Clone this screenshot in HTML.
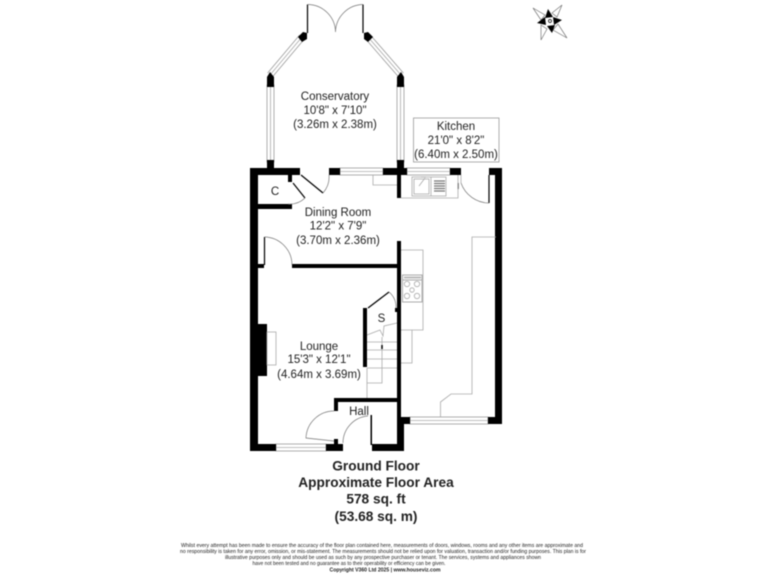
<!DOCTYPE html>
<html><head><meta charset="utf-8"><style>
html,body{margin:0;padding:0;background:#fff}
svg{display:block;filter:blur(.4px)}
text{font-family:"Liberation Sans",sans-serif;text-anchor:middle;fill:#222}
.l{font-size:11.5px}
.t{font-size:13.7px;font-weight:bold;fill:#111}
.f{font-size:5px;fill:#333}
.g{stroke:#aaa;stroke-width:.8;fill:none}
.a{stroke:#777;stroke-width:.7;fill:none}
.k{stroke:#000;fill:none}
</style></head><body>
<svg width="768" height="576" viewBox="0 0 768 576" xmlns="http://www.w3.org/2000/svg">
<rect width="768" height="576" fill="#fff"/>

<!-- Conservatory windows -->
<g fill="#fff" stroke="#999" stroke-width=".8">
<rect x="267" y="85" width="7" height="77"/>
<rect x="397" y="85" width="7" height="77"/>
<rect x="340" y="168" width="43" height="7"/>
<rect x="407" y="168" width="43" height="7"/>
<rect x="276" y="444" width="50" height="7"/>
<rect x="410" y="417" width="78" height="7"/>
</g>
<g class="g">
<path d="M270.5 85V162M400.5 85V162M340 171.500H383M407 171.500H450M276 447.500H326M410 420.500H488"/>
</g>
<line x1="302" y1="37" x2="270" y2="75" stroke="#999" stroke-width="7"/>
<line x1="302" y1="37" x2="270" y2="75" stroke="#fff" stroke-width="5.400"/>
<line x1="302" y1="37" x2="270" y2="75" stroke="#aaa" stroke-width=".8"/>
<line x1="368" y1="37" x2="401" y2="75" stroke="#999" stroke-width="7"/>
<line x1="368" y1="37" x2="401" y2="75" stroke="#fff" stroke-width="5.400"/>
<line x1="368" y1="37" x2="401" y2="75" stroke="#aaa" stroke-width=".8"/>

<!-- Conservatory door -->
<path d="M307.500 4.500V33M363 4.500V33" class="k" stroke-width="1.200"/>
<path d="M307.500 4.500A28 28 0 0 1 335.500 32M363 4.500A28 28 0 0 0 335.500 32" class="a"/>

<!-- Walls -->
<g fill="#000">
<polygon points="298,37 303,32 307,33 307,39 302,42"/>
<polygon points="364,33 368,32 373,37 368,42 364,39"/>
<polygon points="267,77 270,72 274,77 274,87 267,87"/>
<polygon points="397,77 401,72 404,77 404,87 397,87"/>
<rect x="267" y="160" width="7" height="9"/>
<rect x="397" y="160" width="7" height="9"/>
<rect x="250" y="168" width="50" height="7"/>
<rect x="329" y="168" width="11" height="7"/>
<rect x="383" y="168" width="24" height="7"/>
<rect x="450" y="168" width="11" height="7"/>
<rect x="489" y="168" width="13" height="7"/>
<rect x="495" y="168" width="7" height="256"/>
<rect x="250" y="168" width="8" height="283"/>
<rect x="258" y="324" width="9" height="52"/>
<rect x="258" y="204" width="34" height="5"/>
<rect x="288" y="175" width="4" height="7"/>
<rect x="258" y="264" width="6" height="4"/>
<rect x="292" y="264" width="105" height="4"/>
<rect x="397" y="175" width="4" height="23"/>
<rect x="397" y="241" width="4" height="176"/>
<rect x="397" y="417" width="7" height="34"/>
<rect x="401" y="417" width="9" height="7"/>
<rect x="488" y="417" width="14" height="7"/>
<rect x="363" y="308" width="4" height="59"/>
<rect x="334" y="398" width="63" height="4"/>
<rect x="334" y="398" width="4" height="13"/>
<rect x="250" y="444" width="26" height="7"/>
<rect x="326" y="444" width="17" height="7"/>
<rect x="334" y="439" width="4" height="5"/>
<rect x="372" y="444" width="32" height="7"/>
<rect x="370.500" y="415" width="1.500" height="30"/>
<rect x="395" y="308" width="2" height="4"/>
<rect x="457.500" y="183" width="1.200" height="6"/>
</g>

<!-- Doors -->
<path d="M293 183L305 198M301 175L323 193M368 308L389 292M489 175V203M264.500 237V265" class="k" stroke-width="1.200"/>
<path d="M305 198A22 22 0 0 1 288 204M323 193A24 24 0 0 0 329 175M264.500 237A28 28 0 0 1 292 265M389 292A20 20 0 0 1 396 308M461 183A30 30 0 0 0 489 203M334 411A28 28 0 0 0 306 438L334 441M368 416A27 27 0 0 0 343 443" class="a"/>

<!-- Fittings -->
<g class="g">
<rect x="267" y="332" width="9" height="33"/>
<path d="M373 175V185H397M401 198H458V175M461 175V183"/>
<path d="M496 237H472V394H451L440.500 402V417"/>
<path d="M401 250H423V330H401M412 330V363H401"/>
<path d="M367 342H397M367 350H397M367 359H397M367 368H397"/>
<path d="M367 368V398M367 383H382V337"/>
<path d="M367 335L380 330L383 336L384 326L397 323"/>
</g>
<path d="M382 345V349" stroke="#000" stroke-width="1.500"/>
<!-- sink -->
<g class="g">
<rect x="412" y="177" width="34" height="19"/>
<path d="M431 177V196"/>
<rect x="414" y="179" width="15" height="15"/>
<path d="M419 186L425 178M421 177H426"/>
</g>
<path d="M434 181H445M434 183.500H445M434 186H445M434 188.500H445M434 191H445" stroke="#777" stroke-width="1.200"/>
<!-- oven -->
<g class="g">
<rect x="402.500" y="275" width="19.500" height="27" stroke-width="1"/>
<path d="M403 280H422" stroke-width="1"/>
<circle cx="407" cy="284" r="2.700"/>
<circle cx="417" cy="284" r="2.700"/>
<circle cx="412" cy="290" r="2.200"/>
<circle cx="407" cy="296" r="2.700"/>
<circle cx="417" cy="296" r="2.700"/>
</g>
<rect x="404" y="276.500" width="17" height="2" fill="#bbb"/>

<!-- Kitchen label box -->
<rect x="413.500" y="118" width="85.500" height="44" fill="#fff" stroke="#999" stroke-width=".8"/>

<!-- Labels -->
<g class="l">
<text x="335" y="100">Conservatory</text>
<text x="335" y="114">10'8" x 7'10"</text>
<text x="335" y="128">(3.26m x 2.38m)</text>
<text x="456" y="130">Kitchen</text>
<text x="456" y="144">21'0" x 8'2"</text>
<text x="456" y="158">(6.40m x 2.50m)</text>
<text x="338" y="216">Dining Room</text>
<text x="338" y="229.500">12'2" x 7'9"</text>
<text x="338" y="244">(3.70m x 2.36m)</text>
<text x="319" y="350">Lounge</text>
<text x="319" y="363">15'3" x 12'1"</text>
<text x="319" y="378">(4.64m x 3.69m)</text>
<text x="359" y="415">Hall</text>
<text x="275" y="195">C</text>
<text x="381.500" y="322">S</text>
</g>
<g class="t">
<text x="376" y="470.500">Ground Floor</text>
<text x="376" y="487">Approximate Floor Area</text>
<text x="376" y="503.500">578 sq. ft</text>
<text x="376" y="521">(53.68 sq. m)</text>
</g>

<!-- Disclaimer -->
<g class="f">
<text x="382" y="547" textLength="402" lengthAdjust="spacingAndGlyphs">Whilst every attempt has been made to ensure the accuracy of the floor plan contained here, measurements of doors, windows, rooms and any other items are approximate and</text>
<text x="383" y="553" textLength="406" lengthAdjust="spacingAndGlyphs">no responsibility is taken for any error, omission, or mis-statement.  The measurements should not be relied upon for valuation, transaction and/or funding purposes. This plan is for</text>
<text x="383" y="559" textLength="316" lengthAdjust="spacingAndGlyphs">illustrative purposes only and should be used as such by any prospective purchaser or tenant. The services, systems and appliances shown</text>
<text x="349" y="565" textLength="193" lengthAdjust="spacingAndGlyphs">have not been tested and no guarantee as to their operability or efficiency can be given.</text>
<text x="385" y="571.500" textLength="111" lengthAdjust="spacingAndGlyphs" font-weight="bold" fill="#111">Copyright V360 Ltd 2025 | www.houseviz.com</text>
</g>

<!-- Compass -->
<g>
<g fill="#fff" stroke="#777" stroke-width=".7">
<polygon points="533,8 545,15 541,20"/>
<polygon points="562,5 557,17 552,13"/>
<polygon points="567,38 553,30 558,24"/>
<polygon points="541,40 541,25 547,29"/>
</g>
<g fill="#000">
<polygon points="548,9 553,17 545,18"/>
<polygon points="562,20 554,25 553,17"/>
<polygon points="552,33 547,26 555,25"/>
<polygon points="537,23 545,17 546,25"/>
</g>
<circle cx="550" cy="21" r="1.500" fill="#fff" stroke="#000" stroke-width=".7"/>
</g>
</svg>
</body></html>
